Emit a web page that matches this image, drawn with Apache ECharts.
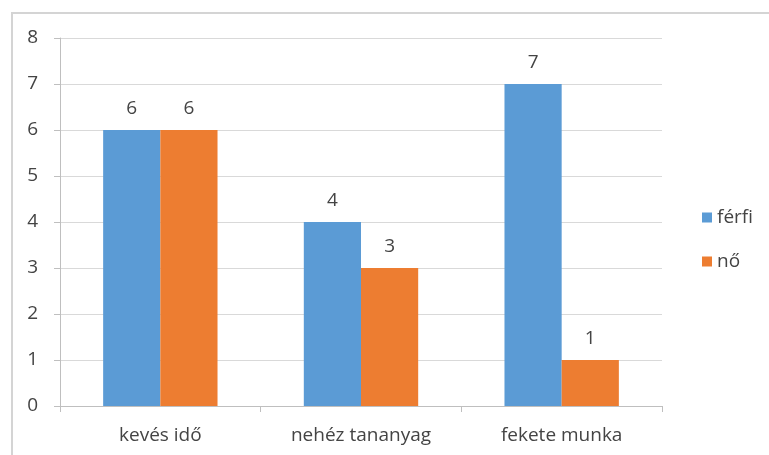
<!DOCTYPE html>
<html>
<head>
<meta charset="utf-8">
<script src="https://cdn.jsdelivr.net/npm/echarts@6/dist/echarts.min.js"></script>
<style>
html, body { margin: 0; padding: 0; background: #fff; }
#chart { width: 769px; height: 455px; }
</style>
</head>
<body>
<div id="chart"></div>
<script>
// adatok
var categories = ['kevés idő', 'nehéz tananyag', 'fekete munka'];
var ferfi = [6, 4, 7];
var no = [6, 3, 1];
var yTicks = [0, 1, 2, 3, 4, 5, 6, 7, 8];

var font = '"Open Sans", Lato, sans-serif';
var textColor = '#444444';

var myChart = echarts.init(document.getElementById('chart'));

var option = {
  animation: false,
  textStyle: { fontFamily: font },
  // keret
  graphic: [{
    type: 'rect',
    shape: { x: 12, y: 13, width: 780, height: 460 },
    style: { fill: 'none', stroke: '#d4d4d4', lineWidth: 2 },
    silent: true
  }],
  grid: { left: 60, top: 38, width: 602, height: 368, containLabel: false },
  legend: {
    orient: 'vertical',
    left: 697,
    top: 203,
    itemWidth: 10,
    itemHeight: 10,
    itemGap: 25,
    icon: 'rect',
    textStyle: { fontSize: 19, color: textColor, fontFamily: font },
    data: ['férfi', 'nő']
  },
  xAxis: {
    type: 'category',
    data: categories,
    axisLine: { lineStyle: { color: '#bfbfbf', width: 1 } },
    axisTick: { show: true, alignWithLabel: false, length: 6, lineStyle: { color: '#bfbfbf' } },
    axisLabel: { fontSize: 19, color: textColor, margin: 20, fontFamily: font }
  },
  yAxis: {
    type: 'value',
    min: yTicks[0],
    max: yTicks[yTicks.length - 1],
    interval: 1,
    axisLine: { show: true, lineStyle: { color: '#bfbfbf' } },
    axisTick: { show: true, length: 6, inside: false, lineStyle: { color: '#bfbfbf' } },
    splitLine: { lineStyle: { color: '#d9d9d9', width: 1 } },
    axisLabel: { fontSize: 19, color: textColor, margin: 22, fontFamily: font }
  },
  series: [
    {
      name: 'férfi',
      type: 'bar',
      data: ferfi,
      barWidth: '28.5%',
      barGap: '0%',
      itemStyle: { color: '#5b9bd5' },
      label: { show: true, position: 'top', distance: 12, fontSize: 19, color: textColor, fontFamily: font }
    },
    {
      name: 'nő',
      type: 'bar',
      data: no,
      barWidth: '28.5%',
      barGap: '0%',
      itemStyle: { color: '#ed7d31' },
      label: { show: true, position: 'top', distance: 12, fontSize: 19, color: textColor, fontFamily: font }
    }
  ]
};

myChart.setOption(option);
</script>
</body>
</html>
